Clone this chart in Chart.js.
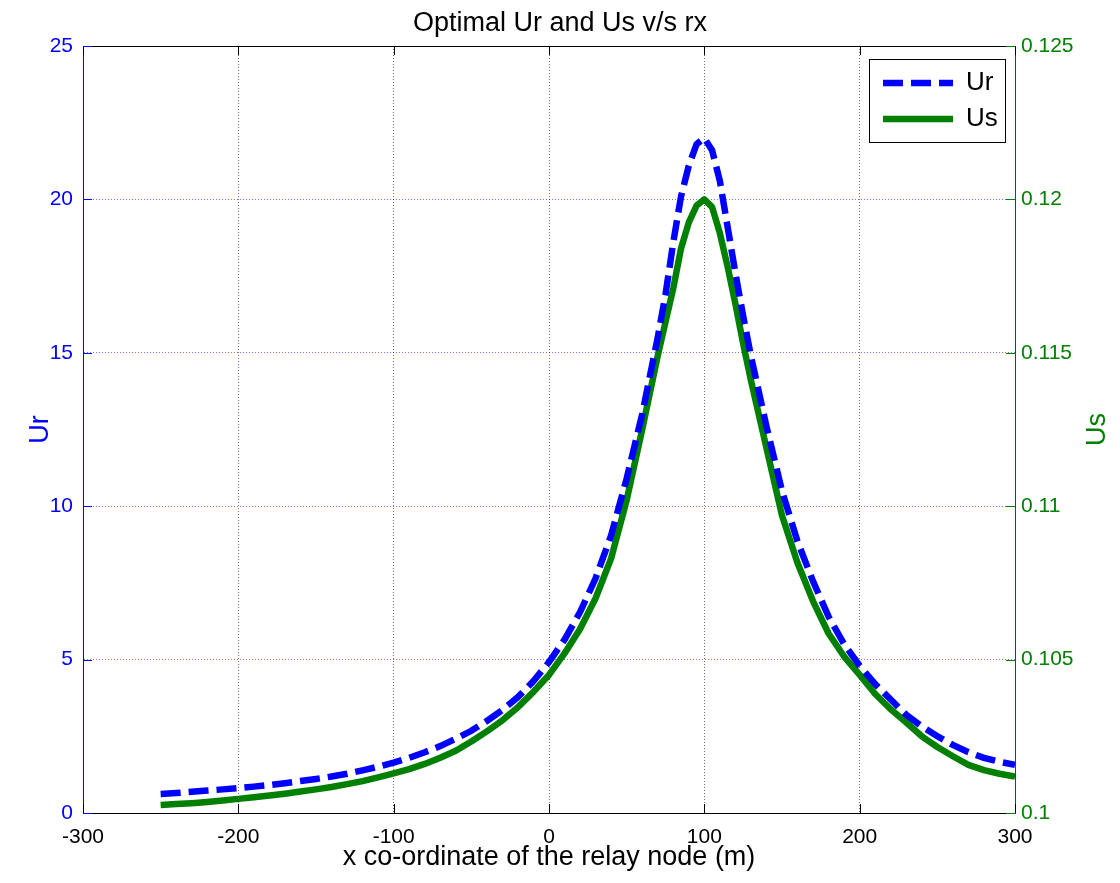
<!DOCTYPE html>
<html><head><meta charset="utf-8">
<script src="https://cdn.jsdelivr.net/npm/chart.js@4.4.1/dist/chart.umd.min.js"></script>
<style>html,body{margin:0;padding:0;background:#fff;}#wrap{width:1120px;height:883px;}</style>
</head><body><div id="wrap"><canvas id="c" width="1120" height="883"></canvas></div>
<script>
const xVals = [-250,-240,-230,-220,-210,-200,-190,-180,-170,-160,-150,-140,-130,-120,-110,-100,-90,-80,-70,-60,-50,-40,-30,-20,-10,0,10,20,30,40,50,60,70,
  75,80,85,90,95,100,105,110,115,120,125,130,
  140,150,160,170,180,190,200,210,220,230,240,250,260,270,280,290,300];
const urVals = [0.62,0.65,0.69,0.73,0.77,0.81,0.86,0.91,0.97,1.04,1.11,1.19,1.28,1.39,1.51,1.64,1.80,1.98,2.18,2.42,2.68,3.00,3.36,3.78,4.30,4.92,5.65,6.55,7.65,9.05,10.9,13.0,15.5,
  16.9,18.6,20.1,21.1,21.8,22.0,21.6,20.6,19.1,17.6,16.2,14.9,
  12.6,10.5,8.85,7.55,6.4,5.5,4.8,4.2,3.7,3.2,2.82,2.5,2.22,1.98,1.8,1.67,1.57];
const usVals = [0.10026,0.10029,0.10032,0.10036,0.10041,0.10046,0.10051,0.10057,0.10063,0.10070,0.10077,0.10085,0.10094,0.10104,0.10116,0.10129,0.10143,0.10160,0.10180,0.10203,0.10233,0.10266,0.10302,0.10345,0.10395,0.10450,0.10520,0.10600,0.10700,0.10830,0.11020,0.11250,0.11490,
  0.11600,0.11710,0.11840,0.11925,0.11980,0.12000,0.11975,0.11890,0.11780,0.11660,0.11530,0.11410,
  0.11190,0.10970,0.10815,0.10690,0.10585,0.10510,0.10450,0.10388,0.10338,0.10295,0.10250,0.10215,0.10185,0.10157,0.10140,0.10128,0.10119];
const xTicks = [-300,-200,-100,0,100,200,300];
const urTicks = [0,5,10,15,20,25];
const usTicks = [0.1,0.105,0.11,0.115,0.12,0.125];

const FONT = '"Liberation Sans", Arial, Helvetica, sans-serif';
const BLUE = '#0000ff', GREEN = '#008000';

const decor = {
  id: 'decor',
  afterLayout(chart) {
    const lg = chart.legend;
    if (!lg) return;
    const w = lg.width;
    lg.left = 873; lg.right = lg.left + w;
    lg.top = 60; lg.bottom = chart.chartArea.bottom; lg.height = lg.bottom - lg.top;
  },
  afterDraw(chart) {
    const ctx = chart.ctx, ca = chart.chartArea;
    const sx = chart.scales.x, sy = chart.scales.y, sy2 = chart.scales.y2;
    const TL = 9;
    ctx.save();
    ctx.lineWidth = 1;
    ctx.strokeStyle = '#000';
    ctx.beginPath();
    ctx.moveTo(ca.left, Math.round(ca.top) + 0.5); ctx.lineTo(ca.right, Math.round(ca.top) + 0.5);
    ctx.stroke();
    ctx.beginPath();
    sx.ticks.forEach(t => {
      const px = Math.round(sx.getPixelForValue(t.value)) + 0.5;
      ctx.moveTo(px, ca.bottom); ctx.lineTo(px, ca.bottom - TL);
      ctx.moveTo(px, ca.top); ctx.lineTo(px, ca.top + TL);
    });
    ctx.stroke();
    ctx.strokeStyle = BLUE;
    ctx.beginPath();
    sy.ticks.forEach(t => {
      const py = Math.round(sy.getPixelForValue(t.value)) + 0.5;
      ctx.moveTo(ca.left, py); ctx.lineTo(ca.left + TL, py);
    });
    ctx.stroke();
    ctx.strokeStyle = GREEN;
    ctx.beginPath();
    sy2.ticks.forEach(t => {
      const py = Math.round(sy2.getPixelForValue(t.value)) + 0.5;
      ctx.moveTo(ca.right, py); ctx.lineTo(ca.right - TL, py);
    });
    ctx.stroke();
    ctx.strokeStyle = '#000';
    ctx.strokeRect(869.5, 59.5, 136, 83);
    ctx.fillStyle = GREEN;
    ctx.font = '27px ' + FONT;
    ctx.textAlign = 'center'; ctx.textBaseline = 'middle';
    ctx.translate(1098, (ca.top + ca.bottom) / 2);
    ctx.rotate(-Math.PI / 2);
    ctx.fillText('Us', 0, 0);
    ctx.restore();
  }
};

new Chart(document.getElementById('c'), {
  type: 'line',
  data: {
    datasets: [
      { label: 'Ur', data: xVals.map((x, i) => ({x, y: urVals[i]})), yAxisID: 'y',
        borderColor: BLUE, backgroundColor: BLUE, borderWidth: 6.5, borderDash: [20, 8],
        pointRadius: 0, tension: 0, fill: false },
      { label: 'Us', data: xVals.map((x, i) => ({x, y: usVals[i]})), yAxisID: 'y2',
        borderColor: GREEN, backgroundColor: GREEN, borderWidth: 6.5, borderJoinStyle: 'round',
        pointRadius: 0, tension: 0, fill: false }
    ]
  },
  options: {
    responsive: false, animation: false, devicePixelRatio: 1,
    layout: { padding: 0 },
    plugins: {
      title: { display: true, text: 'Optimal Ur and Us v/s rx', color: '#000',
        font: { family: FONT, size: 27, weight: 'normal' }, padding: { top: 7, bottom: 6.6 } },
      legend: { display: true, position: 'chartArea', align: 'start',
        labels: { usePointStyle: true, pointStyle: 'line', pointStyleWidth: 70, padding: 10,
          color: '#000', font: { family: FONT, size: 26 },
          generateLabels: (chart) => Chart.defaults.plugins.legend.labels.generateLabels(chart).map((it) => {
            const ds = chart.data.datasets[it.datasetIndex];
            return Object.assign(it, { lineDash: ds.borderDash || [], lineWidth: ds.borderWidth,
              strokeStyle: ds.borderColor, lineCap: 'butt', pointStyle: 'line' });
          }) } },
      tooltip: { enabled: false }
    },
    scales: {
      x: { type: 'linear', position: 'bottom', min: -300, max: 300,
        afterBuildTicks: s => { s.ticks = xTicks.map(v => ({ value: v })); },
        afterFit: s => { s.height = 70; },
        grid: { color: 'rgba(0,0,0,0.55)', lineWidth: 1, drawTicks: false },
        border: { color: '#000', width: 1, dash: [1, 2] },
        ticks: { color: '#000', font: { family: FONT, size: 21 }, padding: 12, maxRotation: 0, autoSkip: false },
        title: { display: true, text: 'x co-ordinate of the relay node (m)', color: '#000',
          font: { family: FONT, size: 27 }, padding: { top: 0, bottom: 9 } } },
      y: { type: 'linear', position: 'left', min: 0, max: 25,
        afterBuildTicks: s => { s.ticks = urTicks.map(v => ({ value: v })); },
        afterFit: s => { s.width = 83; },
        grid: { color: 'rgba(0,0,255,0.55)', lineWidth: 1, drawTicks: false },
        border: { color: BLUE, width: 1, dash: [1, 2] },
        ticks: { color: BLUE, font: { family: FONT, size: 21 }, padding: 10, autoSkip: false },
        title: { display: true, text: 'Ur', color: BLUE, font: { family: FONT, size: 27 },
          padding: { top: 24, bottom: 0 } } },
      y2: { type: 'linear', position: 'right', min: 0.1, max: 0.125,
        afterBuildTicks: s => { s.ticks = usTicks.map(v => ({ value: v })); },
        afterFit: s => { s.width = 105; },
        grid: { display: false, drawTicks: false },
        border: { color: '#1d4a4a', width: 1 },
        ticks: { color: GREEN, font: { family: FONT, size: 21 }, padding: 6, autoSkip: false,
          callback: v => String(v) } }
    }
  },
  plugins: [decor]
});
</script>
</body></html>
